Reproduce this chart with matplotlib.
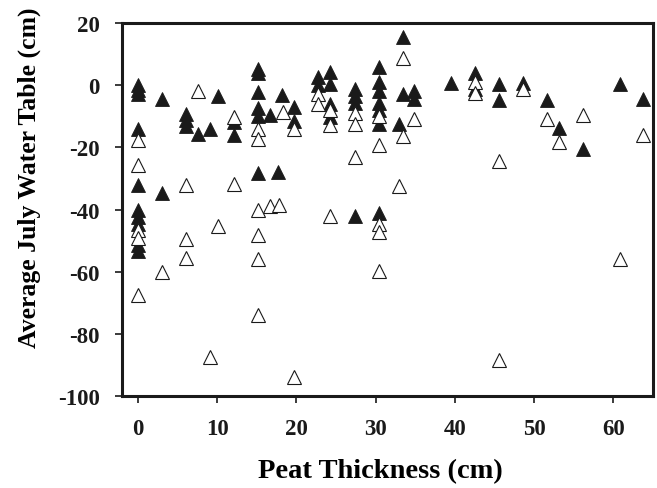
import matplotlib
matplotlib.use("Agg")
import matplotlib.pyplot as plt

# filled triangles
filled_x = [0, 0, 0, 0, 0, 0, 0, 0, 0, 0,
            3.0, 3.0,
            6.1, 6.1, 6.1, 7.6, 9.1, 10.1, 12.1, 12.1,
            15.2, 15.2, 15.2, 15.2, 15.2, 15.2,
            16.7, 17.7, 18.2, 19.7, 19.7,
            22.7, 22.7,
            24.3, 24.3, 24.3, 24.3,
            27.35, 27.35, 27.35, 27.35,
            30.4, 30.4, 30.4, 30.4, 30.4, 30.4, 30.4,
            32.9, 33.4, 33.4, 34.9, 34.9,
            39.5, 42.5, 42.5, 45.6, 45.6, 48.6, 51.6, 53.2, 56.2, 60.8, 63.8]
filled_y = [0, -1.5, -3, -14, -32, -40, -42.5, -44.5, -51.5, -53.5,
            -4.3, -34.6,
            -9.4, -11.2, -13.1, -15.6, -14.2, -3.4, -12, -16.1,
            5.2, 3.9, -2.2, -7.2, -9.9, -28.1,
            -9.6, -27.8, -3.2, -6.9, -11.5,
            2.5, 0.1,
            4.1, 0.5, -6.1, -10.2,
            -1.3, -3.4, -5.6, -42.2,
            5.9, 0.9, -1.8, -5.6, -8.1, -12.6, -41.1,
            -12.4, 15.4, -2.9, -1.8, -4.5,
            0.6, 3.9, -1.1, 0.3, -4.8, 0.6, -4.8, -13.7, -20.4, 0.3, -4.5]

# open triangles
open_x = [0, 0, 0, 0, 0,
          3.0, 6.1, 6.1, 6.1, 7.6, 9.1, 10.1, 12.1, 12.1,
          15.2, 15.2, 15.2, 15.2, 15.2, 15.2,
          16.7, 17.8, 18.3, 19.7, 19.7,
          22.7, 22.7, 24.3, 24.3, 24.3,
          27.35, 27.35, 27.35,
          30.4, 30.4, 30.4, 30.4, 30.4,
          33.0, 33.4, 33.4, 34.9,
          42.5, 42.5, 45.6, 45.6, 48.6, 51.6, 53.2, 56.2, 60.8, 63.8]
open_y = [-17.6, -25.7, -46.5, -49.3, -67.4,
          -60.2, -32.2, -49.5, -55.6, -1.8, -87.3, -45.4, -10.4, -31.7,
          -14.2, -17.4, -40.3, -48.1, -55.9, -73.9,
          -38.9, -38.4, -8.6, -14.2, -93.8,
          -2.7, -6.1, -8.1, -12.8, -42.2,
          -8.8, -12.6, -23,
          -9.9, -19.3, -44.8, -47.3, -59.9,
          -32.3, 8.6, -16.3, -11,
          0.9, -2.6, -24.4, -88.4, -1.1, -10.8, -18.3, -9.7, -55.9, -16.1]

plt.rcParams['font.family'] = ['Liberation Serif', 'DejaVu Serif']
plt.rcParams['font.weight'] = 'bold'
plt.rcParams['axes.unicode_minus'] = False

fig = plt.figure(figsize=(6.57, 4.89), dpi=100)
ax = fig.add_axes([0.1857, 0.188, 0.8082, 0.763])

ax.plot(filled_x, filled_y, linestyle='none', marker='^', markersize=9.5,
        markerfacecolor='#1a1a1a', markeredgecolor='#1a1a1a', markeredgewidth=0.6)
ax.plot(open_x, open_y, linestyle='none', marker='^', markersize=9.5,
        markerfacecolor='white', markeredgecolor='#1a1a1a', markeredgewidth=0.8)

ax.set_xlim(-2, 65)
ax.set_ylim(-100, 20)
ax.set_xticks(range(0, 61, 10))
ax.set_yticks(range(-100, 21, 20))

for s in ax.spines.values():
    s.set_linewidth(2.2)
    s.set_color('#1a1a1a')
ax.tick_params(direction='out', length=5, width=1.2, labelsize=16.5, pad=11, colors='#1a1a1a')
for lab in ax.get_xticklabels() + ax.get_yticklabels():
    lab.set_fontweight('bold')

ax.set_xlabel('Peat Thickness (cm)', fontsize=20.5, fontweight='bold')
ax.set_ylabel('Average July Water Table (cm)', fontsize=18.5, fontweight='bold')
ax.xaxis.set_label_coords(0.486, -0.165)
ax.yaxis.set_label_coords(-0.152, 0.587)

fig.savefig('out.png', dpi=100)
